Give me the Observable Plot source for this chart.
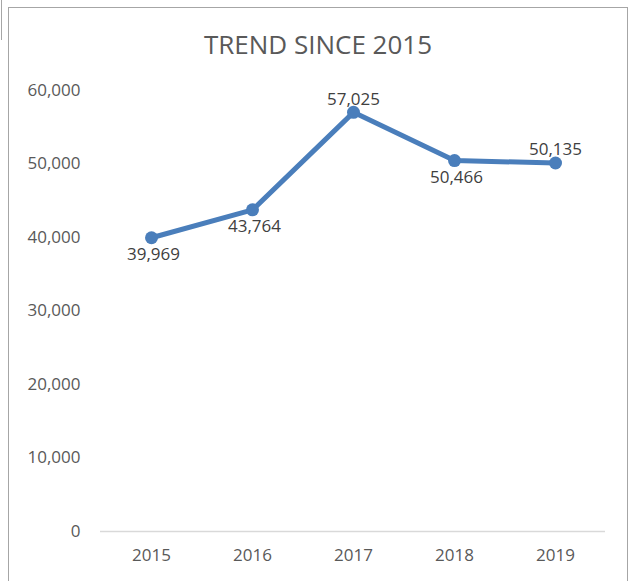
<!DOCTYPE html>
<html>
<head>
<meta charset="utf-8">
<script src="https://cdn.jsdelivr.net/npm/d3@7"></script>
<script src="https://cdn.jsdelivr.net/npm/@observablehq/plot@0.6"></script>
<style>
  html, body { margin: 0; padding: 0; background: #fff; }
  #wrap { position: relative; width: 635px; height: 581px; overflow: hidden; font-family: "Open Sans", sans-serif; }
  #frame { position: absolute; left: 8px; top: 7px; width: 620px; height: 600px; border: 1px solid #a6a6a6; box-sizing: border-box; }
  #edge { position: absolute; left: 1px; top: 0; width: 0; height: 40px; border-left: 1px solid #a6a6a6; }
  #title { position: absolute; left: 8px; width: 620px; top: 31px; text-align: center; font-size: 26px; line-height: 26px; color: #595959; }
  #chart { position: absolute; left: 0; top: 0; }
</style>
</head>
<body>
<div id="wrap">
  <div id="edge"></div>
  <div id="frame"></div>
  <div id="chart"></div>
  <div id="title">TREND SINCE 2015</div>
</div>
<script>
const years = ["2015", "2016", "2017", "2018", "2019"];
const values = [39969, 43764, 57025, 50466, 50135];
const labelSide = ["below", "below", "above", "below", "above"];
const yTicks = [0, 10000, 20000, 30000, 40000, 50000, 60000];

const data = years.map((y, i) => ({year: y, value: values[i], side: labelSide[i]}));
const fmt = d3.format(",");

const chart = Plot.plot({
  width: 635,
  height: 581,
  marginLeft: 100,
  marginRight: 30,
  marginTop: 90,
  marginBottom: 50,
  style: {fontFamily: "'Open Sans', sans-serif", fontSize: "17px", color: "#595959", background: "transparent"},
  x: {type: "point", domain: years, padding: 0.5, label: null},
  y: {domain: [0, 60000], label: null},
  marks: [
    Plot.ruleY([0], {stroke: "#d9d9d9", strokeWidth: 1.5}),
    Plot.axisY({ticks: yTicks, tickFormat: fmt, tickSize: 0, tickPadding: 20, fontSize: 17, label: null}),
    Plot.axisX({tickSize: 0, tickPadding: 17, fontSize: 17, label: null}),
    Plot.line(data, {x: "year", y: "value", stroke: "#4a7ebb", strokeWidth: 5}),
    Plot.dot(data, {x: "year", y: "value", fill: "#4a7ebb", r: 6.5}),
    Plot.text(data.filter(d => d.side === "below"), {x: "year", y: "value", text: d => fmt(d.value), dy: 17, dx: 2, fill: "#404040", fontSize: 17}),
    Plot.text(data.filter(d => d.side === "above"), {x: "year", y: "value", text: d => fmt(d.value), dy: -13, fill: "#404040", fontSize: 17})
  ]
});
document.getElementById("chart").appendChild(chart);
</script>
</body>
</html>
